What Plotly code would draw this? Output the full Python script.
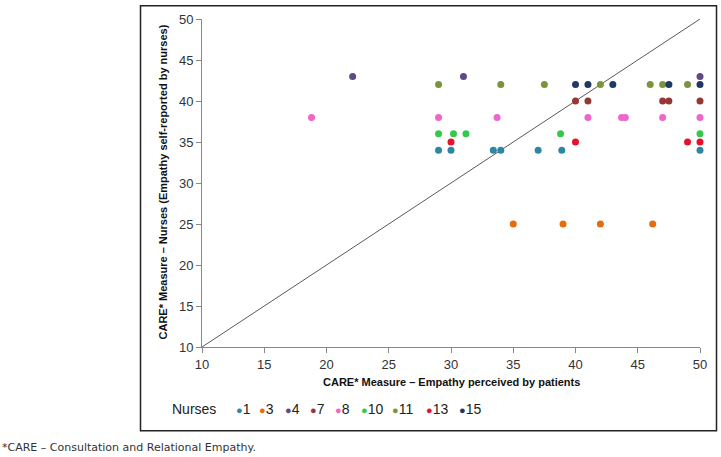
import plotly.graph_objects as go

# ---- data ----
nurses = ["1", "3", "4", "7", "8", "10", "11", "13", "15"]
colors = ["#2f86a2", "#e46c0a", "#5e4a86", "#953735", "#f065c8", "#35c94c", "#7a943c", "#e8112d", "#1f3864"]

x_1 = [29, 30, 33.4, 34, 37, 38.9, 50]
y_1 = [34, 34, 34, 34, 34, 34, 34]
x_3 = [35, 39, 42, 46.2]
y_3 = [25, 25, 25, 25]
x_4 = [22.1, 31, 50]
y_4 = [43, 43, 43]
x_7 = [40, 41, 47, 47.5, 50]
y_7 = [40, 40, 40, 40, 40]
x_8 = [18.8, 29, 33.7, 41, 43.7, 44, 47, 50]
y_8 = [38, 38, 38, 38, 38, 38, 38, 38]
x_10 = [29, 30.2, 31.2, 38.8, 50]
y_10 = [36, 36, 36, 36, 36]
x_11 = [29, 34, 37.5, 42, 46, 47, 49]
y_11 = [42, 42, 42, 42, 42, 42, 42]
x_13 = [30, 40, 49, 50]
y_13 = [35, 35, 35, 35]
x_15 = [40, 41, 43, 47.5, 50]
y_15 = [42, 42, 42, 42, 42]

xs = [x_1, x_3, x_4, x_7, x_8, x_10, x_11, x_13, x_15]
ys = [y_1, y_3, y_4, y_7, y_8, y_10, y_11, y_13, y_15]

diag = [10, 50]
ticks = [10, 15, 20, 25, 30, 35, 40, 45, 50]

x_title = "CARE* Measure – Empathy perceived by patients"
y_title = "CARE* Measure – Nurses (Empathy self-reported by nurses)"
legend_title = "Nurses"
footnote = "*CARE – Consultation and Relational Empathy."

# ---- figure ----
W, H = 721, 457
ML, MR, MT, MB = 202, 21, 14, 110
PW, PH = W - ML - MR, H - MT - MB

def px(p):
    return (p - ML) / PW

def py(p):
    return (H - MB - p) / PH

fig = go.Figure()
fig.add_trace(go.Scatter(x=diag, y=diag, mode="lines",
                         line=dict(color="#5a5a5a", width=1), showlegend=False, hoverinfo="skip"))
for n, c, x, y in zip(nurses, colors, xs, ys):
    fig.add_trace(go.Scatter(x=x, y=y, mode="markers", name=n, cliponaxis=False,
                             marker=dict(color=c, size=7, line=dict(width=0)), showlegend=False))

axis_common = dict(range=[10, 50], tickvals=ticks, showgrid=False, zeroline=False,
                   showline=True, linecolor="#888888", linewidth=1,
                   ticks="outside", ticklen=5, tickcolor="#888888",
                   tickfont=dict(family="Liberation Sans, Arial", size=13, color="#333333"))
fig.update_xaxes(**axis_common)
fig.update_yaxes(**axis_common)

annotations = []
annotations.append(dict(xref="paper", yref="paper", x=px(451), y=py(383), text=f"<b>{x_title}</b>",
                        showarrow=False, font=dict(family="Liberation Sans, Arial", size=11, color="#111111"),
                        xanchor="center", yanchor="middle"))
annotations.append(dict(xref="paper", yref="paper", x=px(163), y=py(180), text=f"<b>{y_title}</b>",
                        showarrow=False, textangle=-90,
                        font=dict(family="Liberation Sans, Arial", size=11, color="#111111"),
                        xanchor="center", yanchor="middle"))
# legend
annotations.append(dict(xref="paper", yref="paper", x=px(218), y=py(410), text=legend_title,
                        showarrow=False, font=dict(family="Liberation Sans, Arial", size=14, color="#222222"),
                        xanchor="right", yanchor="middle"))
leg_pos = [238, 261, 287, 312, 337, 363, 394, 428, 461]
for n, c, p in zip(nurses, colors, leg_pos):
    annotations.append(dict(xref="paper", yref="paper", x=px(p - 4), y=py(410),
                            text=f"<span style='color:{c};font-size:11px'>●</span>{n}",
                            showarrow=False, font=dict(family="Liberation Sans, Arial", size=14, color="#222222"),
                            xanchor="left", yanchor="middle"))
annotations.append(dict(xref="paper", yref="paper", x=px(0), y=py(449), text=footnote,
                        showarrow=False, font=dict(family="DejaVu Sans, Verdana", size=11, color="#333333"),
                        xanchor="left", yanchor="middle"))

shapes = [dict(type="rect", xref="paper", yref="paper", x0=px(140.5), x1=px(716.5), y0=py(432), y1=py(0.5),
               line=dict(color="#222222", width=1.5), fillcolor="rgba(0,0,0,0)", layer="below")]

fig.update_layout(width=W, height=H, margin=dict(l=ML, r=MR, t=MT, b=MB),
                  paper_bgcolor="white", plot_bgcolor="white",
                  annotations=annotations, shapes=shapes, showlegend=False)

post = ("document.body.style.margin='0px';"
        "var d=document.getElementById('{plot_id}');"
        "d.style.position='absolute';d.style.left='0px';d.style.top='0px';")
fig.write_html("out.html", post_script=post, config={"displayModeBar": False})
